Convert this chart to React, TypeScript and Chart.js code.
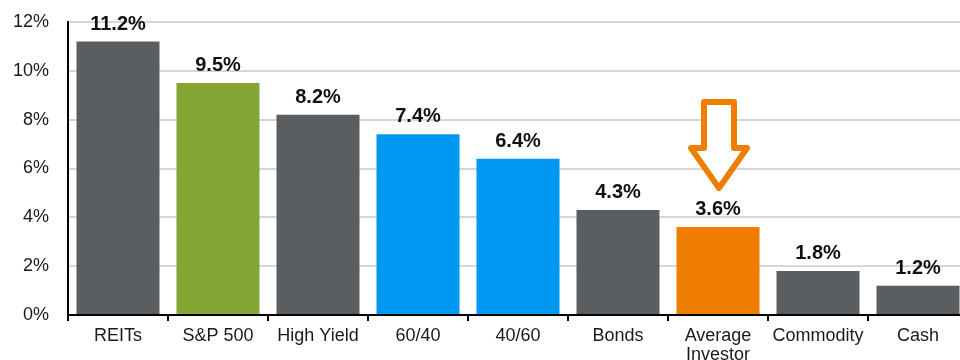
import React, { useEffect, useRef } from "react";
import { Chart, registerables } from "chart.js";

Chart.register(...registerables);

const categories: (string | string[])[] = [
  "REITs",
  "S&P 500",
  "High Yield",
  "60/40",
  "40/60",
  "Bonds",
  ["Average", "Investor"],
  "Commodity",
  "Cash",
];
const returns: number[] = [11.2, 9.5, 8.2, 7.4, 6.4, 4.3, 3.6, 1.8, 1.2];
const barColors: string[] = [
  "#5b5e61",
  "#84a634",
  "#5b5e61",
  "#0098f0",
  "#0098f0",
  "#5b5e61",
  "#ee7d00",
  "#5b5e61",
  "#5b5e61",
];
const yMin = 0;
const yMax = 12;
const yStep = 2;
const highlightIndex = 6;

const FONT = "'Liberation Sans', Arial, sans-serif";
const GRID = "#d6d6d6";

const labelPlugin = {
  id: "valueLabels",
  afterDatasetsDraw(chart: any) {
    const ctx = chart.ctx;
    const meta = chart.getDatasetMeta(0);
    ctx.save();
    ctx.font = `bold 20px ${FONT}`;
    ctx.fillStyle = "#111111";
    ctx.textAlign = "center";
    ctx.textBaseline = "alphabetic";
    meta.data.forEach((bar: any, i: number) => {
      ctx.fillText(returns[i].toFixed(1) + "%", bar.x, bar.y - 12);
    });

    // outlined down arrow over the highlighted bar
    const hb = meta.data[highlightIndex];
    if (hb) {
      const cx = hb.x + 1;
      const tip = hb.y - 39;
      const headBase = tip - 40;
      const top = tip - 86;
      const sw = 15;
      const hw = 28;
      ctx.beginPath();
      ctx.moveTo(cx - sw, top);
      ctx.lineTo(cx + sw, top);
      ctx.lineTo(cx + sw, headBase);
      ctx.lineTo(cx + hw, headBase);
      ctx.lineTo(cx, tip);
      ctx.lineTo(cx - hw, headBase);
      ctx.lineTo(cx - sw, headBase);
      ctx.closePath();
      ctx.fillStyle = "#ffffff";
      ctx.fill();
      ctx.lineWidth = 6;
      ctx.lineJoin = "round";
      ctx.strokeStyle = "#ee7d00";
      ctx.stroke();
    }
    ctx.restore();
  },
};

export default function App() {
  const ref = useRef<HTMLCanvasElement | null>(null);

  useEffect(() => {
    if (!ref.current) return;
    const chart = new Chart(ref.current, {
      type: "bar",
      data: {
        labels: categories,
        datasets: [
          {
            data: returns,
            backgroundColor: barColors,
            borderWidth: 0,
            barPercentage: 0.83,
            categoryPercentage: 1,
          },
        ],
      },
      options: {
        responsive: false,
        animation: false,
        layout: { padding: { top: 22, right: 0, left: 0, bottom: 0 } },
        plugins: {
          legend: { display: false },
          tooltip: { enabled: false },
        },
        scales: {
          x: {
            offset: true,
            grid: {
              display: true,
              drawOnChartArea: false,
              drawTicks: true,
              tickLength: 6,
              color: "#000000",
              lineWidth: 2,
              offset: true,
            },
            border: { display: true, color: "#000000", width: 2 },
            ticks: {
              color: "#1a1a1a",
              padding: 6,
              font: { family: FONT, size: 18, lineHeight: 1.05 },
              maxRotation: 0,
              autoSkip: false,
            },
            afterFit(scale: any) {
              scale.height = 45;
            },
          },
          y: {
            min: yMin,
            max: yMax,
            grid: {
              display: true,
              drawOnChartArea: true,
              color: GRID,
              lineWidth: 2,
              drawTicks: true,
              tickLength: 19,
              tickColor: "rgba(255,255,255,0)",
            },
            border: { display: true, color: "#000000", width: 2 },
            ticks: {
              stepSize: yStep,
              color: "#1a1a1a",
              padding: 0,
              font: { family: FONT, size: 18 },
              callback: (v: any) => `${v}%`,
            },
            afterFit(scale: any) {
              scale.width = 68;
            },
          },
        },
      },
      plugins: [labelPlugin],
    });
    return () => chart.destroy();
  }, []);

  return (
    <div
      style={{
        position: "fixed",
        left: 0,
        top: 0,
        width: 960,
        height: 360,
        overflow: "hidden",
        background: "#ffffff",
      }}
    >
      <canvas ref={ref} width={968} height={360} style={{ display: "block", width: 968, height: 360 }} />
    </div>
  );
}
